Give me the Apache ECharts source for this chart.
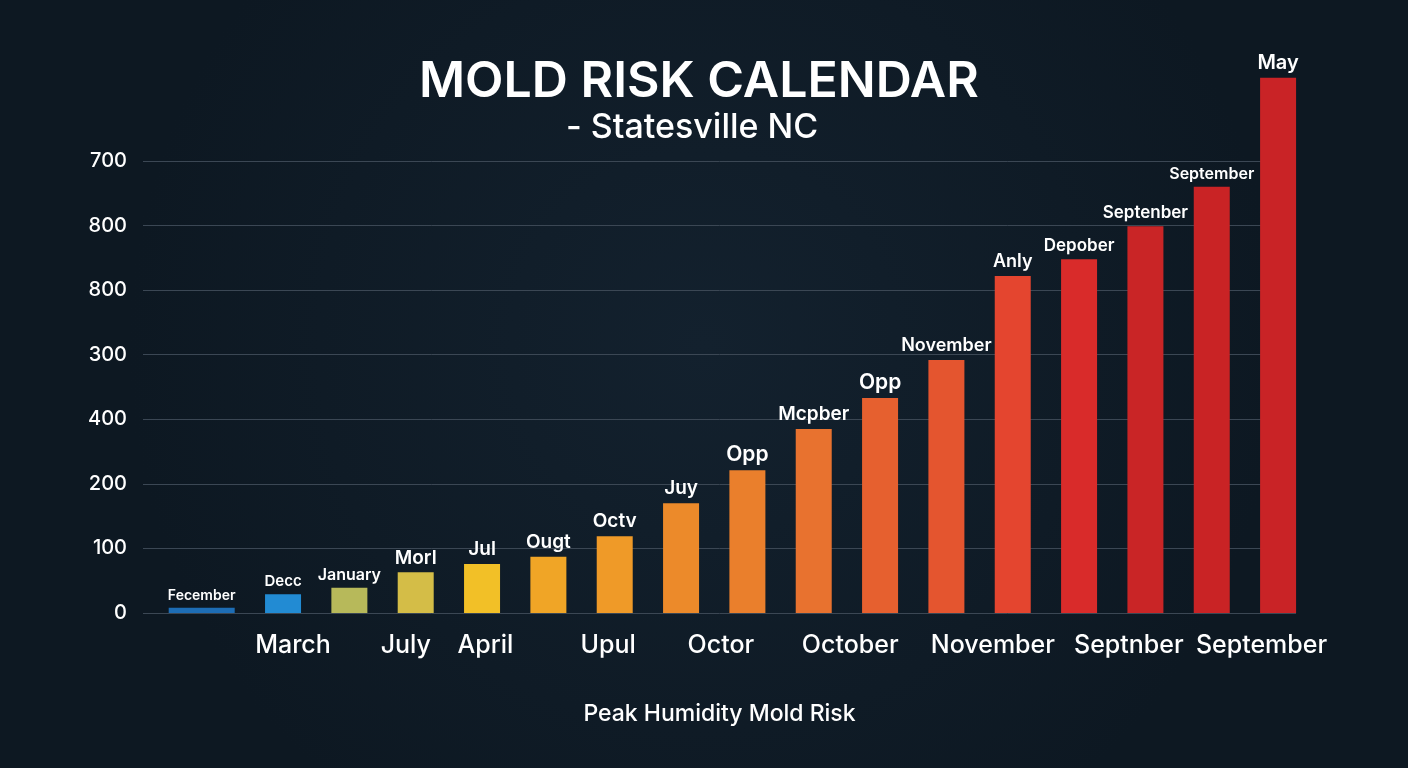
<!DOCTYPE html>
<html>
<head>
<meta charset="utf-8">
<title>Mold Risk Calendar</title>
<script src="https://cdn.jsdelivr.net/npm/echarts@6/dist/echarts.min.js"></script>
<style>
  html, body { margin: 0; padding: 0; background: #0f1b27; }
  #chart { width: 1408px; height: 768px; }
</style>
</head>
<body>
<div id="chart"></div>
<script>
// bar labels and values, left to right (values in axis units, 100 per gridline)
const barNames = ['Fecember', 'Decc', 'January', 'Morl', 'Jul', 'Ougt', 'Octv', 'Juy', 'Opp',
  'Mcpber', 'Opp', 'November', 'Anly', 'Depober', 'Septenber', 'September', 'May'];
const barValues = [8, 29, 39, 63, 76, 87, 119, 170, 221, 285, 333, 392, 522, 548, 599, 660, 829];

// y tick labels as printed (bottom to top)
const yTickLabels = ['0', '100', '200', '400', '300', '800', '800', '700'];

// x axis labels and where they sit along the bar index scale
const xLabels = ['March', 'July', 'April', 'Upul', 'Octor', 'October', 'November', 'Septnber', 'September'];
const xLabelAt = [2.15, 3.85, 5.05, 6.9, 8.6, 10.55, 12.7, 14.75, 16.75];

// styling
const barColors = ['#1d6db5', '#228bd3', '#b7b95a', '#d4bd47', '#f2c027', '#f0a526', '#ef9a28',
  '#ec8a2a', '#ea7f2c', '#e8722f', '#e6602f', '#e4552f', '#e4452f', '#d92b2a', '#c92526', '#c92325', '#c92326'];
const labelSizes = [14, 15, 16, 19, 19, 19, 19, 19, 21, 19, 21, 18, 18, 17, 17, 16, 20];
const FONT = 'Inter';

let chart = echarts.init(document.getElementById('chart'));

function item(i) {
  return {
    value: [i + 1, barValues[i]],
    itemStyle: {color: barColors[i]},
    label: {formatter: barNames[i], fontSize: labelSizes[i]}
  };
}

let narrow = [];
let wide = [];
barNames.forEach((name, i) => {
  if (i === 0) wide.push(item(i));
  else narrow.push(item(i));
});

let barLabel = {
  show: true,
  position: 'top',
  distance: 5,
  color: '#ffffff',
  fontFamily: FONT,
  fontWeight: 600
};

chart.setOption({
  backgroundColor: {
    type: 'radial', x: 0.5, y: 0.45, r: 0.75,
    colorStops: [{offset: 0, color: '#13212e'}, {offset: 1, color: '#0d1822'}]
  },
  title: [{
    text: 'MOLD RISK CALENDAR',
    left: 419,
    top: 57,
    padding: 0,
    textStyle: {color: '#ffffff', fontFamily: FONT, fontSize: 50, fontWeight: 600}
  }, {
    text: '- Statesville NC',
    left: 566,
    top: 111,
    padding: 0,
    textStyle: {color: '#ffffff', fontFamily: FONT, fontSize: 34, fontWeight: 500}
  }],
  grid: {left: 143, right: 112, top: 161, bottom: 155},
  xAxis: {
    type: 'value',
    min: -0.111,
    max: 17.27,
    name: 'Peak Humidity Mold Risk',
    nameLocation: 'middle',
    nameGap: 90,
    nameTextStyle: {color: '#ffffff', fontFamily: FONT, fontSize: 23, fontWeight: 500},
    axisLine: {show: false},
    axisTick: {show: false},
    splitLine: {show: false},
    axisLabel: {
      customValues: xLabelAt,
      margin: 20,
      color: '#ffffff',
      fontFamily: FONT,
      fontSize: 25,
      fontWeight: 500,
      formatter: (v) => {
        let k = xLabelAt.findIndex(p => Math.abs(p - v) < 1e-6);
        return k >= 0 ? xLabels[k] : '';
      }
    }
  },
  yAxis: {
    type: 'value',
    min: 0,
    max: 700,
    interval: 100,
    axisLine: {show: false},
    axisTick: {show: false},
    splitLine: {lineStyle: {color: '#3b4754', width: 1}},
    axisLabel: {
      margin: 16,
      color: '#ffffff',
      fontFamily: FONT,
      fontSize: 20,
      fontWeight: 500,
      formatter: (v) => yTickLabels[Math.round(v / 100)]
    }
  },
  series: [{
    type: 'bar',
    name: 'narrow',
    data: narrow,
    barWidth: 36,
    barGap: '-183.33%',
    clip: false,
    label: barLabel
  }, {
    type: 'bar',
    name: 'wide',
    data: wide,
    barWidth: 66,
    barGap: '-183.33%',
    clip: false,
    label: barLabel
  }]
});
</script>
</body>
</html>
